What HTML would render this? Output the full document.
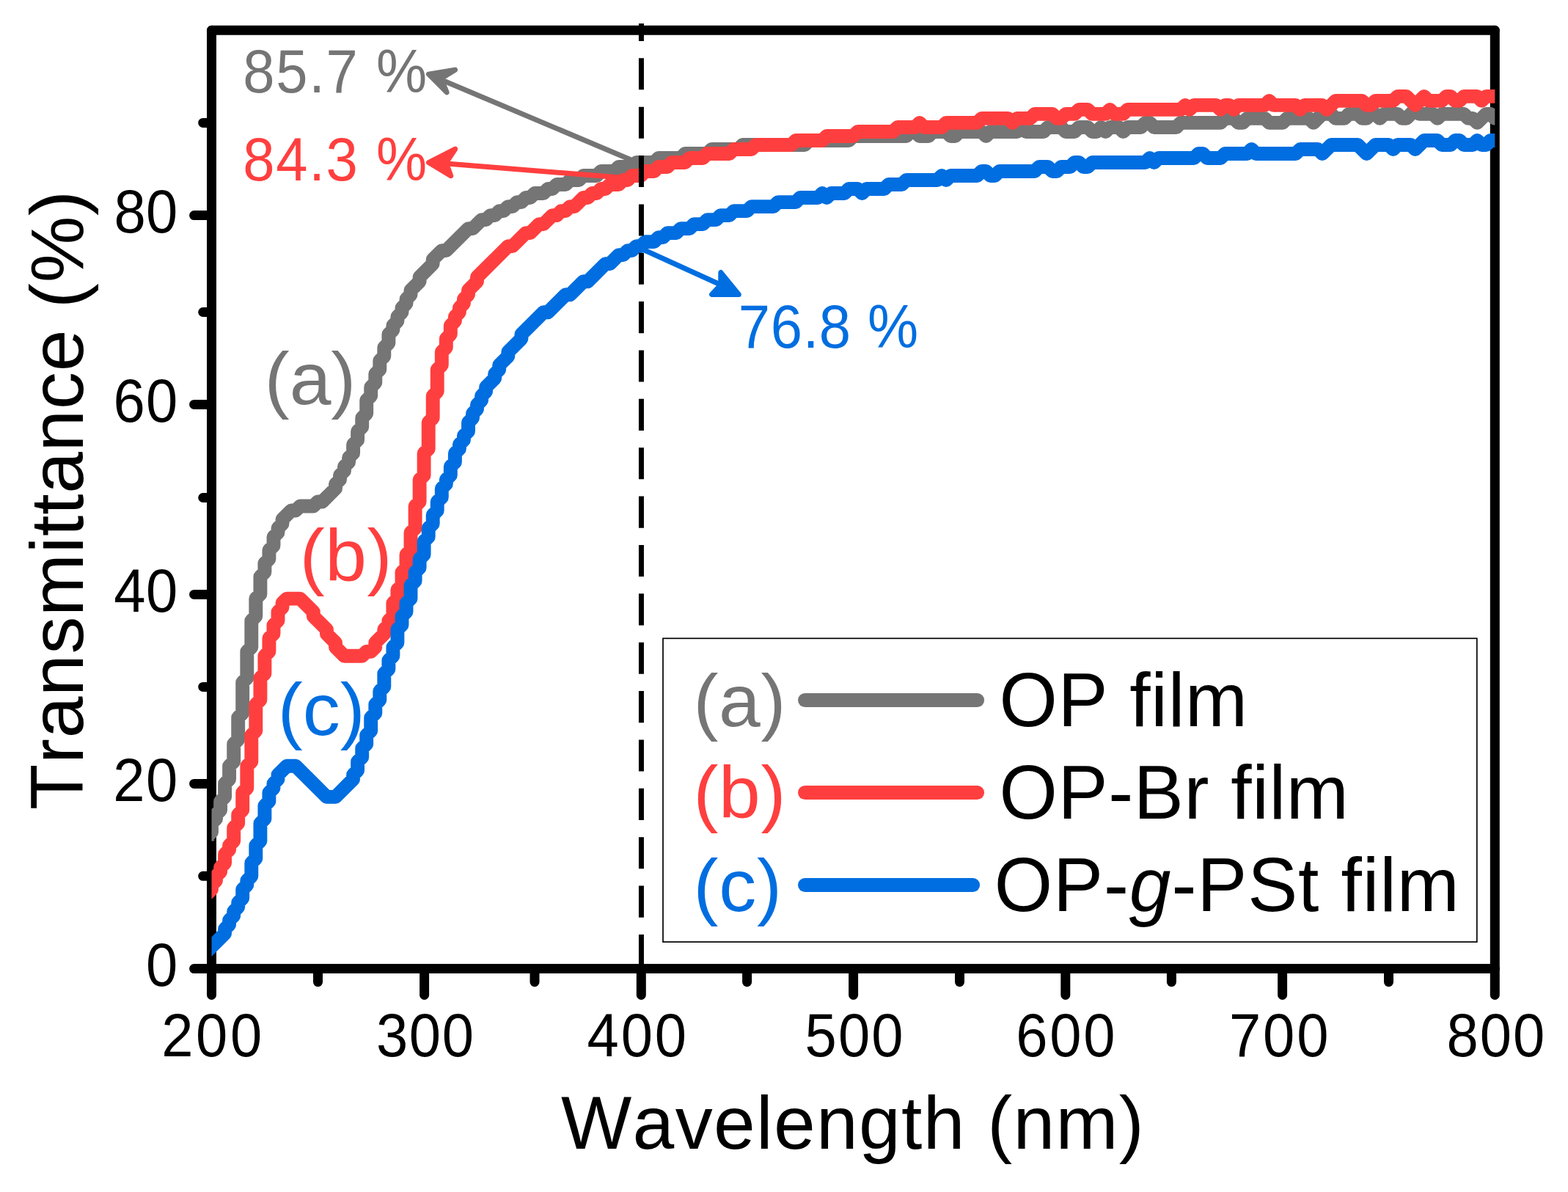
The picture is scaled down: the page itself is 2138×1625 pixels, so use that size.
<!DOCTYPE html>
<html lang="en"><head><meta charset="utf-8"><title>UV-vis transmittance of OP, OP-Br and OP-g-PSt films</title>
<style>
html,body{margin:0;padding:0;background:#fff;}
body{width:2138px;height:1625px;overflow:hidden;}
svg{display:block;}
text{font-family:"Liberation Sans",Arial,Helvetica,sans-serif;font-kerning:none;}
.ax{stroke:#000;stroke-width:13.0;stroke-linecap:round;fill:none;}
.curve{fill:none;stroke-width:18.9;stroke-linejoin:round;stroke-linecap:butt;}
</style></head><body>
<svg xmlns="http://www.w3.org/2000/svg" width="2138" height="1625" viewBox="0 0 2138 1625">
<rect width="2138" height="1625" fill="#fff"/>
<defs><clipPath id="plot"><rect x="288.5" y="0" width="1749.8" height="1625"/></clipPath></defs>
<g class="ax">
<line x1="288.5" y1="41.3" x2="2038.3" y2="41.3"/>
<line x1="288.5" y1="1320.6" x2="2038.3" y2="1320.6"/>
<line x1="288.5" y1="41.3" x2="288.5" y2="1320.6"/>
<line x1="2038.3" y1="41.3" x2="2038.3" y2="1320.6"/>
<line x1="288.5" y1="1320.6" x2="288.5" y2="1356.5"/>
<line x1="578.6" y1="1320.6" x2="578.6" y2="1356.5"/>
<line x1="874.3" y1="1320.6" x2="874.3" y2="1356.5"/>
<line x1="1163.6" y1="1320.6" x2="1163.6" y2="1356.5"/>
<line x1="1452.8" y1="1320.6" x2="1452.8" y2="1356.5"/>
<line x1="1748.6" y1="1320.6" x2="1748.6" y2="1356.5"/>
<line x1="2038.3" y1="1320.6" x2="2038.3" y2="1356.5"/>
<line x1="433.5" y1="1320.6" x2="433.5" y2="1338.7"/>
<line x1="729.0" y1="1320.6" x2="729.0" y2="1338.7"/>
<line x1="1018.6" y1="1320.6" x2="1018.6" y2="1338.7"/>
<line x1="1308.5" y1="1320.6" x2="1308.5" y2="1338.7"/>
<line x1="1597.4" y1="1320.6" x2="1597.4" y2="1338.7"/>
<line x1="1893.5" y1="1320.6" x2="1893.5" y2="1338.7"/>
<line x1="288.5" y1="1320.6" x2="264.6" y2="1320.6"/>
<line x1="288.5" y1="1068.4" x2="264.6" y2="1068.4"/>
<line x1="288.5" y1="810.4" x2="264.6" y2="810.4"/>
<line x1="288.5" y1="551.4" x2="264.6" y2="551.4"/>
<line x1="288.5" y1="293.6" x2="264.6" y2="293.6"/>
<line x1="288.5" y1="1194.3" x2="276.7" y2="1194.3"/>
<line x1="288.5" y1="936.4" x2="276.7" y2="936.4"/>
<line x1="288.5" y1="678.5" x2="276.7" y2="678.5"/>
<line x1="288.5" y1="425.5" x2="276.7" y2="425.5"/>
<line x1="288.5" y1="167.4" x2="276.7" y2="167.4"/>
</g>
<text transform="translate(220.18,1440.0) scale(0.9584,1.0263)" font-size="81.2" letter-spacing="3.82" fill="#000">200</text>
<text transform="translate(512.9,1440.0) scale(0.9584,1.0263)" font-size="81.2" letter-spacing="1.775" fill="#000">300</text>
<text transform="translate(800.62,1440.0) scale(0.9584,1.0263)" font-size="81.2" letter-spacing="2.853" fill="#000">400</text>
<text transform="translate(1097.55,1440.0) scale(0.9584,1.0263)" font-size="81.2" letter-spacing="2.149" fill="#000">500</text>
<text transform="translate(1385.36,1440.0) scale(0.9584,1.0263)" font-size="81.2" letter-spacing="2.745" fill="#000">600</text>
<text transform="translate(1675.93,1440.0) scale(0.9584,1.0263)" font-size="81.2" letter-spacing="3.015" fill="#000">700</text>
<text transform="translate(1972.45,1440.0) scale(0.9584,1.0263)" font-size="81.2" letter-spacing="2.078" fill="#000">800</text>
<text transform="translate(198.88,1343.9) scale(0.9584,1.0263)" font-size="81.2" fill="#000">0</text>
<text transform="translate(154.13,1091.8) scale(0.9584,1.0263)" font-size="81.2" letter-spacing="1.578" fill="#000">20</text>
<text transform="translate(155.2,833.9) scale(0.9584,1.0263)" font-size="81.2" letter-spacing="0.445" fill="#000">40</text>
<text transform="translate(154.6,574.9) scale(0.9584,1.0263)" font-size="81.2" letter-spacing="1.129" fill="#000">60</text>
<text transform="translate(155.62,317.2) scale(0.9584,1.0263)" font-size="81.2" letter-spacing="0.096" fill="#000">80</text>
<text transform="translate(765.04,1565.7) scale(1.0,1.0)" font-size="102.0" letter-spacing="1.299" fill="#000">Wavelength (nm)</text>
<text transform="translate(113.45,1104.0) rotate(-90) scale(1.0,1.0)" font-size="102.0" letter-spacing="0.679" fill="#000">Transmittance (%)</text>
<g clip-path="url(#plot)">
<polyline class="curve" stroke="#757575" points="282.5,1146.4 282.5,1140.4 288.5,1134.4 288.5,1122.4 294.5,1116.4 294.5,1110.4 300.6,1104.4 300.6,1092.4 306.6,1086.4 306.6,1068.3 312.6,1062.3 312.6,1044.3 318.7,1038.3 318.7,1014.3 324.7,1008.3 324.7,978.3 330.7,972.3 330.7,930.2 336.8,924.2 336.8,888.2 342.8,882.2 342.8,846.1 348.8,840.1 348.8,816.1 354.9,810.1 354.9,786.1 360.9,780.1 360.9,768.0 366.9,762.0 366.9,750.0 373.0,744.0 373.0,732.0 379.0,726.0 379.0,720.0 385.0,714.0 385.0,708.0 397.1,696.0 403.1,696.0 409.2,690.0 427.3,690.0 433.3,684.0 439.4,684.0 457.5,665.9 457.5,659.9 463.5,653.9 463.5,647.9 469.5,641.9 469.5,635.9 475.6,629.9 475.6,623.9 481.6,617.9 481.6,605.9 487.6,599.9 487.6,587.9 493.7,581.9 493.7,569.8 499.7,563.8 499.7,545.8 505.7,539.8 505.7,527.8 511.8,521.8 511.8,509.8 517.8,503.8 517.8,491.8 523.8,485.8 523.8,473.8 529.9,467.7 529.9,455.7 535.9,449.7 535.9,443.7 541.9,437.7 541.9,431.7 548.0,425.7 548.0,419.7 554.0,413.7 554.0,407.7 560.0,401.7 560.0,395.7 572.1,383.7 572.1,377.7 590.2,359.6 590.2,353.6 602.3,341.6 608.3,341.6 638.5,311.6 644.5,311.6 656.6,299.6 662.6,299.6 668.6,293.6 674.7,293.6 680.7,287.6 686.7,287.6 692.8,281.6 698.8,281.6 704.8,275.6 710.9,275.6 716.9,269.5 722.9,269.5 729.0,263.5 741.0,263.5 747.1,257.5 753.1,257.5 759.2,251.5 771.2,251.5 777.3,245.5 789.3,245.5 795.4,239.5 813.5,239.5 819.5,233.5 837.6,233.5 843.6,227.5 861.7,227.5 867.8,221.5 891.9,221.5 897.9,215.5 928.1,215.5 934.1,209.5 964.3,209.5 970.3,203.5 1006.5,203.5 1012.6,197.5 1097.1,197.5 1103.1,191.5 1157.4,191.5 1163.4,185.5 1235.8,185.5 1241.9,179.5 1247.9,179.5 1253.9,185.5 1266.0,185.5 1272.0,179.5 1290.1,179.5 1296.2,185.5 1302.2,185.5 1308.2,179.5 1338.4,179.5 1344.5,185.5 1350.5,179.5 1386.7,179.5 1392.7,173.5 1398.8,179.5 1422.9,179.5 1428.9,173.5 1447.0,173.5 1453.1,179.5 1465.1,179.5 1471.2,173.5 1483.2,173.5 1489.3,179.5 1495.3,179.5 1501.3,173.5 1507.4,179.5 1513.4,173.5 1525.5,173.5 1531.5,179.5 1537.5,173.5 1555.6,173.5 1561.7,167.4 1567.7,167.4 1573.7,173.5 1603.9,173.5 1609.9,167.4 1664.3,167.4 1670.3,161.4 1682.4,161.4 1688.4,167.4 1694.4,167.4 1700.5,161.4 1724.6,161.4 1730.6,167.4 1748.7,167.4 1754.8,161.4 1784.9,161.4 1791.0,167.4 1803.0,155.4 1815.1,155.4 1821.1,161.4 1833.2,161.4 1839.2,155.4 1851.3,155.4 1857.3,161.4 1863.4,161.4 1869.4,155.4 1875.4,155.4 1881.5,161.4 1887.5,155.4 1905.6,155.4 1911.6,161.4 1917.7,161.4 1929.7,149.4 1935.8,155.4 1953.9,155.4 1959.9,161.4 1966.0,155.4 1996.1,155.4 2002.2,161.4 2008.2,161.4 2014.2,167.4 2026.3,155.4 2032.3,155.4 2038.4,161.4 2044.4,161.4"/>
<polyline class="curve" stroke="#ff3f3f" points="276.4,1224.5 288.5,1212.5 288.5,1206.5 294.5,1200.5 294.5,1194.5 300.6,1188.5 300.6,1182.5 306.6,1176.5 306.6,1164.4 312.6,1158.4 312.6,1152.4 318.7,1146.4 318.7,1128.4 324.7,1122.4 324.7,1110.4 330.7,1104.4 330.7,1080.4 336.8,1074.4 336.8,1044.3 342.8,1038.3 342.8,1002.3 348.8,996.3 348.8,960.2 354.9,954.2 354.9,924.2 360.9,918.2 360.9,894.2 366.9,888.2 366.9,870.1 373.0,864.1 373.0,852.1 379.0,846.1 379.0,834.1 385.0,828.1 385.0,822.1 391.1,816.1 409.2,816.1 427.3,834.1 427.3,840.1 445.4,858.1 445.4,864.1 457.5,876.2 457.5,882.2 469.5,894.2 493.7,894.2 499.7,888.2 505.7,888.2 511.8,882.2 511.8,876.2 523.8,864.1 523.8,858.1 529.9,852.1 529.9,846.1 535.9,840.1 535.9,822.1 541.9,816.1 541.9,804.1 548.0,798.1 548.0,780.1 554.0,774.1 554.0,756.0 560.0,750.0 560.0,726.0 566.1,720.0 566.1,690.0 572.1,684.0 572.1,653.9 578.1,647.9 578.1,617.9 584.2,611.9 584.2,575.9 590.2,569.8 590.2,539.8 596.2,533.8 596.2,503.8 602.3,497.8 602.3,479.8 608.3,473.8 608.3,461.7 614.3,455.7 614.3,443.7 620.4,437.7 620.4,431.7 626.4,425.7 626.4,419.7 632.4,413.7 632.4,407.7 638.5,401.7 638.5,395.7 650.5,383.7 650.5,377.7 692.8,335.6 698.8,335.6 716.9,317.6 722.9,317.6 735.0,305.6 741.0,305.6 753.1,293.6 759.2,293.6 765.2,287.6 771.2,287.6 777.3,281.6 783.3,281.6 795.4,269.5 801.4,269.5 807.4,263.5 813.5,263.5 819.5,257.5 825.5,257.5 831.6,251.5 843.6,251.5 849.7,245.5 855.7,245.5 861.7,239.5 873.8,239.5 879.8,233.5 891.9,233.5 897.9,227.5 910.0,227.5 916.0,221.5 934.1,221.5 940.2,215.5 958.3,215.5 964.3,209.5 994.5,209.5 1000.5,203.5 1024.6,203.5 1030.7,197.5 1079.0,197.5 1085.0,191.5 1121.2,191.5 1127.2,185.5 1163.4,185.5 1169.5,179.5 1217.7,179.5 1223.8,173.5 1247.9,173.5 1253.9,167.4 1260.0,173.5 1284.1,173.5 1290.1,167.4 1332.4,167.4 1338.4,161.4 1374.6,161.4 1380.7,167.4 1386.7,161.4 1404.8,161.4 1410.8,155.4 1435.0,155.4 1441.0,161.4 1447.0,161.4 1453.1,155.4 1465.1,155.4 1471.2,149.4 1483.2,149.4 1489.3,155.4 1507.4,155.4 1513.4,149.4 1519.4,155.4 1531.5,155.4 1537.5,149.4 1609.9,149.4 1616.0,143.4 1622.0,149.4 1628.0,143.4 1658.2,143.4 1664.3,149.4 1670.3,143.4 1676.3,143.4 1682.4,149.4 1688.4,143.4 1724.6,143.4 1730.6,137.4 1736.7,143.4 1766.8,143.4 1772.9,149.4 1778.9,143.4 1803.0,143.4 1809.1,149.4 1821.1,137.4 1857.3,137.4 1863.4,143.4 1869.4,143.4 1875.4,137.4 1899.6,137.4 1905.6,131.4 1917.7,131.4 1929.7,143.4 1941.8,131.4 1947.8,137.4 1966.0,137.4 1972.0,131.4 1978.0,131.4 1984.1,137.4 1990.1,137.4 1996.1,131.4 2014.2,131.4 2020.3,137.4 2026.3,131.4 2044.4,131.4"/>
<polyline class="curve" stroke="#006ee0" points="270.4,1302.6 276.4,1302.6 306.6,1272.6 306.6,1266.5 312.6,1260.5 312.6,1254.5 318.7,1248.5 318.7,1242.5 324.7,1236.5 324.7,1230.5 330.7,1224.5 330.7,1212.5 336.8,1206.5 336.8,1200.5 342.8,1194.5 342.8,1176.5 348.8,1170.4 348.8,1152.4 354.9,1146.4 354.9,1122.4 360.9,1116.4 360.9,1098.4 366.9,1092.4 366.9,1080.4 373.0,1074.4 373.0,1068.3 379.0,1062.3 379.0,1056.3 391.1,1044.3 403.1,1044.3 445.4,1086.4 457.5,1086.4 481.6,1062.3 481.6,1056.3 487.6,1050.3 487.6,1038.3 493.7,1032.3 493.7,1020.3 499.7,1014.3 499.7,1002.3 505.7,996.3 505.7,978.3 511.8,972.3 511.8,960.2 517.8,954.2 517.8,942.2 523.8,936.2 523.8,918.2 529.9,912.2 529.9,900.2 535.9,894.2 535.9,882.2 541.9,876.2 541.9,858.1 548.0,852.1 548.0,840.1 554.0,834.1 554.0,822.1 560.0,816.1 560.0,798.1 566.1,792.1 566.1,780.1 572.1,774.1 572.1,762.0 578.1,756.0 578.1,738.0 584.2,732.0 584.2,720.0 590.2,714.0 590.2,702.0 596.2,696.0 596.2,684.0 602.3,678.0 602.3,665.9 608.3,659.9 608.3,653.9 614.3,647.9 614.3,635.9 620.4,629.9 620.4,617.9 626.4,611.9 626.4,605.9 632.4,599.9 632.4,593.9 638.5,587.9 638.5,575.9 644.5,569.8 644.5,563.8 650.5,557.8 650.5,551.8 656.6,545.8 656.6,539.8 662.6,533.8 662.6,527.8 674.7,515.8 674.7,509.8 680.7,503.8 680.7,497.8 692.8,485.8 692.8,479.8 710.9,461.7 710.9,455.7 741.0,425.7 747.1,425.7 771.2,401.7 777.3,401.7 795.4,383.7 801.4,383.7 825.5,359.6 831.6,359.6 843.6,347.6 849.7,347.6 855.7,341.6 861.7,341.6 867.8,335.6 873.8,335.6 879.8,329.6 891.9,329.6 897.9,323.6 904.0,323.6 910.0,317.6 922.1,317.6 928.1,311.6 940.2,311.6 946.2,305.6 958.3,305.6 964.3,299.6 976.4,299.6 982.4,293.6 994.5,293.6 1000.5,287.6 1018.6,287.6 1024.6,281.6 1054.8,281.6 1060.9,275.6 1085.0,275.6 1091.0,269.5 1115.2,269.5 1121.2,263.5 1127.2,269.5 1133.3,263.5 1151.4,263.5 1157.4,257.5 1169.5,257.5 1175.5,263.5 1181.5,257.5 1205.7,257.5 1211.7,251.5 1229.8,251.5 1235.8,245.5 1278.1,245.5 1284.1,239.5 1290.1,245.5 1296.2,239.5 1332.4,239.5 1338.4,233.5 1344.5,233.5 1350.5,239.5 1356.5,239.5 1362.6,233.5 1410.8,233.5 1416.9,227.5 1428.9,227.5 1435.0,233.5 1441.0,233.5 1447.0,227.5 1459.1,227.5 1465.1,221.5 1471.2,221.5 1477.2,227.5 1483.2,227.5 1489.3,221.5 1561.7,221.5 1567.7,215.5 1573.7,221.5 1579.8,215.5 1628.0,215.5 1634.1,209.5 1640.1,209.5 1646.1,215.5 1664.3,215.5 1670.3,209.5 1700.5,209.5 1706.5,203.5 1712.5,209.5 1766.8,209.5 1772.9,203.5 1797.0,203.5 1803.0,209.5 1815.1,197.5 1851.3,197.5 1863.4,209.5 1875.4,197.5 1893.5,197.5 1899.6,203.5 1905.6,197.5 1923.7,197.5 1929.7,203.5 1941.8,191.5 1959.9,191.5 1966.0,197.5 1978.0,197.5 1984.1,191.5 1990.1,191.5 1996.1,197.5 2008.2,197.5 2014.2,191.5 2020.3,197.5 2026.3,197.5 2032.3,191.5 2044.4,191.5 2050.4,197.5"/>
</g>
<g stroke="#757575" fill="#757575" stroke-width="7.0" stroke-linejoin="round" stroke-linecap="butt">
<line x1="860.5" y1="218.0" x2="604.0" y2="109.7"/>
<polygon points="584.5,101.1 620.6,95.3 601.4,106.9 609.1,125.9"/>
</g>
<g stroke="#ff3f3f" fill="#ff3f3f" stroke-width="7.0" stroke-linejoin="round" stroke-linecap="butt">
<line x1="852.0" y1="242.6" x2="609.0" y2="222.9"/>
<polygon points="584.5,221.5 620.7,203.2 608.3,221.8 614.7,239.7"/>
</g>
<g stroke="#006ee0" fill="#006ee0" stroke-width="7.0" stroke-linejoin="round" stroke-linecap="butt">
<line x1="876.0" y1="339.8" x2="986.0" y2="389.8"/>
<polygon points="1007.3,401.4 982.8,371.5 982.7,388.5 970.6,401.4"/>
</g>
<line x1="874.45" y1="32.0" x2="874.45" y2="1320" stroke="#000" stroke-width="7.0" stroke-linecap="butt" stroke-dasharray="43.1 23.27" stroke-dashoffset="19.1"/>
<text transform="translate(331.28,126.1) scale(0.9584,1.0263)" font-size="81.2" letter-spacing="1.799" fill="#757575">85.7 %</text>
<text transform="translate(331.28,245.8) scale(0.9584,1.0263)" font-size="81.2" letter-spacing="1.799" fill="#ff3f3f">84.3 %</text>
<text transform="translate(1006.85,473.6) scale(0.9584,1.0263)" font-size="81.2" letter-spacing="0.645" fill="#006ee0">76.8 %</text>
<text transform="translate(360.72,551.4) scale(1.0,0.98)" font-size="102.0" letter-spacing="-0.044" fill="#757575">(a)</text>
<text transform="translate(408.73,791.5) scale(1.0,0.98)" font-size="102.0" letter-spacing="0.606" fill="#ff3f3f">(b)</text>
<text transform="translate(378.78,1001.8) scale(1.0,0.98)" font-size="102.0" letter-spacing="0.036" fill="#006ee0">(c)</text>
<rect x="904" y="870.3" width="1109.8" height="413.79999999999995" fill="#fff" stroke="#000" stroke-width="1.7"/>
<line x1="1097.5" y1="954.5" x2="1332.6" y2="954.5" stroke="#757575" stroke-width="18.95" stroke-linecap="round"/>
<line x1="1097.5" y1="1080.55" x2="1332.6" y2="1080.55" stroke="#ff3f3f" stroke-width="18.95" stroke-linecap="round"/>
<line x1="1097.5" y1="1206.5" x2="1326.6" y2="1206.5" stroke="#006ee0" stroke-width="18.95" stroke-linecap="round"/>
<text transform="translate(945.6,989.55) scale(1.0,0.98)" font-size="102.0" letter-spacing="0.556" fill="#757575">(a)</text>
<text transform="translate(945.6,1115.3) scale(1.0,0.98)" font-size="102.0" letter-spacing="0.556" fill="#ff3f3f">(b)</text>
<text transform="translate(945.52,1241.55) scale(1.0,0.98)" font-size="102.0" letter-spacing="0.736" fill="#006ee0">(c)</text>
<text transform="translate(1362.56,990.1) scale(1.0,1.01)" font-size="102.0" letter-spacing="0.676" fill="#000">OP film</text>
<text transform="translate(1362.59,1115.9) scale(1.0,1.01)" font-size="102.0" letter-spacing="0.651" fill="#000">OP-Br film</text>
<text transform="translate(1355.85,1242.0) scale(1.0,1.01)" font-size="102.0" letter-spacing="0.876" fill="#000">OP-<tspan font-style="italic">g</tspan>-PSt film</text>
</svg>
</body></html>
